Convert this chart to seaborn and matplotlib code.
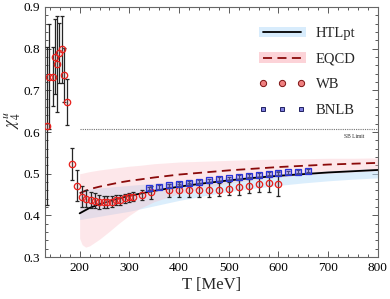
import numpy as np
import matplotlib
matplotlib.use("Agg")
import matplotlib.pyplot as plt
import seaborn as sns
from matplotlib.patches import Patch
from matplotlib.lines import Line2D
from matplotlib.ticker import MultipleLocator

# --- datos ---
# HTLpt (linea central y banda)
htl_T = [200, 220, 240, 260, 280, 300, 350, 400, 450, 500, 550, 600, 650, 700, 750, 800]
htl_mid = [0.405, 0.418, 0.427, 0.434, 0.441, 0.447, 0.459, 0.469, 0.477, 0.484, 0.490, 0.495, 0.499, 0.503, 0.506, 0.509]
htl_lo = [0.390, 0.394, 0.398, 0.402, 0.406, 0.410, 0.423, 0.436, 0.447, 0.457, 0.465, 0.472, 0.478, 0.483, 0.487, 0.490]
htl_hi = [0.460, 0.463, 0.466, 0.468, 0.470, 0.472, 0.477, 0.482, 0.487, 0.491, 0.496, 0.500, 0.504, 0.507, 0.510, 0.513]

# EQCD (linea central y banda)
eqcd_T = [200, 205, 212, 220, 240, 260, 280, 300, 320, 350, 400, 450, 500, 550, 600, 650, 700, 750, 800]
eqcd_mid = [0.453, 0.456, 0.459, 0.463, 0.469, 0.474, 0.479, 0.483, 0.486, 0.491, 0.498, 0.503, 0.508, 0.512, 0.516, 0.519, 0.522, 0.524, 0.526]
eqcd_lo = [0.345, 0.330, 0.324, 0.327, 0.343, 0.362, 0.382, 0.400, 0.416, 0.433, 0.452, 0.466, 0.477, 0.485, 0.492, 0.497, 0.501, 0.504, 0.507]
eqcd_hi = [0.500, 0.501, 0.503, 0.505, 0.509, 0.512, 0.515, 0.518, 0.520, 0.524, 0.528, 0.530, 0.532, 0.534, 0.535, 0.536, 0.537, 0.537, 0.538]

# WB (lattice)
wb_T = [134.6, 138.7, 145.5, 149.5, 153.5, 158.8, 164.2, 168.8, 173.7, 183.7, 194, 204,
        213, 222, 231, 239, 248, 256, 265, 274, 282, 291, 300, 308, 325, 343,
        380, 400, 420, 440, 460, 480, 500, 520, 540, 560, 580, 600]
wb_chi = [0.614, 0.733, 0.733, 0.781, 0.763, 0.789, 0.798, 0.736, 0.671, 0.523, 0.471, 0.445,
          0.440, 0.437, 0.435, 0.433, 0.432, 0.432, 0.433, 0.436, 0.438, 0.441, 0.443, 0.445, 0.448, 0.455,
          0.460, 0.460, 0.461, 0.461, 0.461, 0.462, 0.464, 0.467, 0.471, 0.475, 0.477, 0.476]
wb_err = [0.190, 0.125, 0.070, 0.090, 0.115, 0.072, 0.080, 0.065, 0.055, 0.038, 0.037, 0.025,
          0.020, 0.020, 0.018, 0.017, 0.015, 0.014, 0.013, 0.012, 0.012, 0.011, 0.010, 0.010, 0.012, 0.015,
          0.016, 0.016, 0.016, 0.016, 0.016, 0.016, 0.016, 0.017, 0.017, 0.018, 0.020, 0.030]

# BNLB (lattice)
bnl_T = [340, 360, 380, 400, 420, 440, 460, 480, 500, 520, 540, 560, 580, 600, 620, 640, 660]
bnl_chi = [0.465, 0.468, 0.472, 0.475, 0.478, 0.481, 0.484, 0.487, 0.489, 0.492, 0.495, 0.497, 0.499, 0.501, 0.503, 0.505, 0.507]
bnl_err = [0.004] * len(bnl_T)

sb_limit = 0.608

sns.set_style("ticks")
plt.rcParams["font.family"] = ["Liberation Serif", "DejaVu Serif"]
plt.rcParams["mathtext.fontset"] = "stix"

fig = plt.figure(figsize=(3.9, 2.99), dpi=100)
ax = fig.add_axes([0.115, 0.140, 0.854, 0.837])

# bandas
ax.fill_between(htl_T, htl_lo, htl_hi, color="#bfe0fb", alpha=0.55, lw=0)
ax.fill_between(eqcd_T, eqcd_lo, eqcd_hi, color="#fbb8c0", alpha=0.33, lw=0)

# curvas
sns.lineplot(x=htl_T, y=htl_mid, ax=ax, color="black", lw=1.3)
sns.lineplot(x=eqcd_T, y=eqcd_mid, ax=ax, color="#8b0a0a", lw=1.3, linestyle=(0, (5, 3)))

# limite SB
ax.hlines(sb_limit, 200, 800, colors="0.45", linestyles=(0, (1, 1)), lw=0.8)
ax.text(772, sb_limit - 0.012, "SB Limit", fontsize=4, ha="right", va="top")

# datos de red
ax.errorbar(wb_T, wb_chi, yerr=wb_err, fmt="o", ms=4.6, mfc=(1, 0.6, 0.6, 0.2), mec="#e8201c",
            mew=0.9, ecolor="0.15", elinewidth=0.9, capsize=1.6, capthick=0.9, zorder=4)
ax.errorbar(bnl_T, bnl_chi, yerr=bnl_err, fmt="s", ms=5, mfc=(0.55, 0.55, 1, 0.5), mec="#2a33d8",
            mew=0.9, ecolor="black", elinewidth=0.8, capsize=1.2, zorder=5)

ax.set_xlim(130, 800)
ax.set_ylim(0.3, 0.9)
ax.set_xticks([200, 300, 400, 500, 600, 700, 800])
ax.xaxis.set_minor_locator(MultipleLocator(20))
ax.yaxis.set_major_locator(MultipleLocator(0.1))
ax.yaxis.set_minor_locator(MultipleLocator(0.02))
ax.tick_params(which="both", direction="in", top=True, right=True, colors="0.35",
               labelcolor="black", labelsize=9.5, width=0.7)
ax.tick_params(which="major", length=4)
ax.tick_params(which="minor", length=2)
for s in ax.spines.values():
    s.set_color("0.4")
    s.set_linewidth(0.8)

ax.set_xlabel("T [MeV]", fontsize=12, labelpad=2)
ax.set_ylabel(r"$\chi_4^u$", fontsize=12, labelpad=2)
ax.yaxis.set_label_coords(-0.065, 0.55)

handles = [
    (Patch(facecolor="#d8ecfc", edgecolor="none"), Line2D([], [], color="black", lw=1.3)),
    (Patch(facecolor="#fcd3d8", edgecolor="none"), Line2D([], [], color="#8b0a0a", lw=1.3, linestyle=(0, (5, 3)))),
    Line2D([], [], ls="none", marker="o", ms=4.5, mfc="#f08080", mec="#7a1010", mew=0.7),
    Line2D([], [], ls="none", marker="s", ms=3.5, mfc="#7f7fe0", mec="#202060", mew=0.7),
]
ax.legend(handles, ["HTLpt", "EQCD", "WB", "BNLB"], loc="upper right", bbox_to_anchor=(0.96, 0.955),
          frameon=False, fontsize=10.5, handlelength=3.2, handletextpad=0.7, labelspacing=0.85,
          numpoints=3, borderaxespad=0.2)

fig.savefig("out.png", dpi=100)
